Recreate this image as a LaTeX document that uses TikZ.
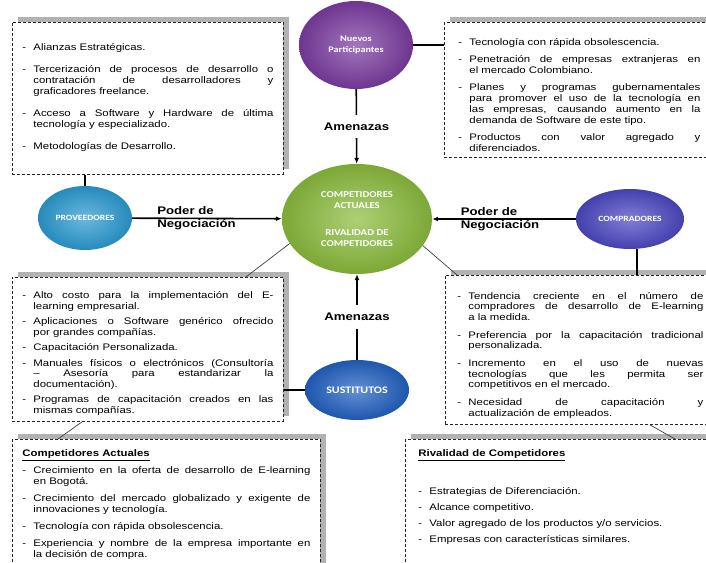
\documentclass[tikz,border=0pt]{standalone}
\usepackage{fontspec}
\setmainfont{Liberation Sans}[FakeStretch=1.2]
\newfontfamily\ovalfont{Carlito}[FakeStretch=1.2]
\usetikzlibrary{arrows.meta,shapes.geometric,shadows}

\definecolor{nuevosColor}{HTML}{7A3BA0}
\definecolor{actualesColor}{HTML}{8ABB3C}
\definecolor{proveedoresColor}{HTML}{2A9AD0}
\definecolor{compradoresColor}{HTML}{4B47C2}
\definecolor{sustitutosColor}{HTML}{2160C0}

\newcommand{\itm}[1]{\par\noindent\hangindent=11pt\hangafter=1\hbox to 11pt{-\hfil}#1\par}

\tikzset{
  fuerza/.style={ellipse, inner sep=0pt, text=white, align=center,
    font=\ovalfont\bfseries\fontsize{8}{10}\selectfont,
    shading=radial, inner color=#1!70!white, outer color=#1!90!black},
  lista/.style={draw=black!85, dash pattern=on 3pt off 2pt, line width=0.9pt,
    fill=white, anchor=north west, inner xsep=10pt, inner ysep=6pt, align=justify,
    font=\fontsize{9.5}{11}\selectfont,
    drop shadow={shadow xshift=6pt, shadow yshift=5pt, fill=black!30, opacity=1},
    execute at begin node={\setlength{\parskip}{#1}}},
  flecha/.style={line width=1.6pt, -{Latex[length=6pt,width=5pt]}},
  enlace/.style={line width=1.1pt},
  diagonal/.style={line width=0.7pt, black!75},
  etiqueta/.style={font=\bfseries\fontsize{11}{13}\selectfont, align=left}
}

\begin{document}
\begin{tikzpicture}[x=1pt, y=-1pt]
\useasboundingbox (0,0) rectangle (706,562);
\clip (0,0) rectangle (706,562);

% las cinco fuerzas
\node[fuerza=nuevosColor, minimum width=114pt, minimum height=88pt,
  font=\ovalfont\bfseries\fontsize{8.5}{10.5}\selectfont] (Nuevos) at (356,45) {Nuevos\\Participantes};
\node[fuerza=actualesColor, minimum width=150pt, minimum height=110pt,
  font=\ovalfont\bfseries\fontsize{9}{11}\selectfont] (Actuales) at (357,219)
  {COMPETIDORES\\ACTUALES\\[16pt]RIVALIDAD DE\\COMPETIDORES};
\node[fuerza=proveedoresColor, minimum width=94pt, minimum height=64pt] (Proveedores) at (85,218) {PROVEEDORES};
\node[fuerza=compradoresColor, minimum width=108pt, minimum height=60pt] (Compradores) at (630,219) {COMPRADORES};
\node[fuerza=sustitutosColor, minimum width=104pt, minimum height=60pt,
  font=\ovalfont\bfseries\fontsize{10}{12}\selectfont] (Sustitutos) at (357,390) {SUSTITUTOS};

% listas
\node[lista=11pt, text width=251pt, minimum height=135pt] (proveedoresLista) at (12,22) {%
  \itm{Alianzas Estratégicas.}
  \itm{Tercerización de procesos de desarrollo o\linebreak contratación de desarrolladores y\linebreak graficadores freelance.}
  \itm{Acceso a Software y Hardware de última\linebreak tecnología y especializado.}
  \itm{Metodologías de Desarrollo.}
  \vspace{-3pt}\mbox{}};

\node[lista=6pt, text width=242pt, inner xsep=14pt, minimum height=135pt] (nuevosLista) at (444,22) {%
  \itm{Tecnología con rápida obsolescencia.}
  \itm{Penetración de empresas extranjeras en\linebreak el mercado Colombiano.}
  \itm{Planes y programas gubernamentales\linebreak para promover el uso de la tecnología en\linebreak las empresas, causando aumento en la\linebreak demanda de Software de este tipo.}
  \itm{Productos con valor agregado y\linebreak diferenciados.}};

\node[lista=5pt, text width=251pt, minimum height=137pt,
  font=\fontsize{9.5}{10.5}\selectfont] (sustitutosLista) at (12,277) {%
  \itm{Alto costo para la implementación del E-\linebreak learning empresarial.}
  \itm{Aplicaciones o Software genérico ofrecido\linebreak por grandes compañías.}
  \itm{Capacitación Personalizada.}
  \itm{Manuales físicos o electrónicos (Consultoría\linebreak – Asesoría para estandarizar la\linebreak documentación).}
  \itm{Programas de capacitación creados en las\linebreak mismas compañías.}};

\node[lista=7.5pt, text width=246pt, inner xsep=12pt, minimum height=139pt,
  font=\fontsize{9.5}{10.5}\selectfont] (compradoresLista) at (445,275) {%
  \itm{Tendencia creciente en el número de\linebreak compradores de desarrollo de E-learning\linebreak a la medida.}
  \itm{Preferencia por la capacitación tradicional\linebreak personalizada.}
  \itm{Incremento en el uso de nuevas\linebreak tecnologías que les permita ser\linebreak competitivos en el mercado.}
  \itm{Necesidad de capacitación y\linebreak actualización de empleados.}};

\node[lista=6pt, text width=288pt, inner ysep=10pt] (actualesLista) at (12,439) {%
  \textbf{\underline{Competidores Actuales}}
  \itm{Crecimiento en la oferta de desarrollo de E-learning\linebreak en Bogotá.}
  \itm{Crecimiento del mercado globalizado y exigente de\linebreak innovaciones y tecnología.}
  \itm{Tecnología con rápida obsolescencia.}
  \itm{Experiencia y nombre de la empresa importante en\linebreak la decisión de compra.}
  \vspace{10pt}\mbox{}};

\node[lista=5pt, text width=285pt, inner xsep=13pt, inner ysep=10pt] (rivalidadLista) at (405,439) {%
  \textbf{\underline{Rivalidad de Competidores}}\par\vspace{22pt}
  \itm{Estrategias de Diferenciación.}
  \itm{Alcance competitivo.}
  \itm{Valor agregado de los productos y/o servicios.}
  \itm{Empresas con características similares.}
  \vspace{10pt}\mbox{}};

% amenazas y poder de negociacion
\draw[flecha] (Nuevos) -- node[etiqueta, fill=white, inner ysep=8pt] (amenazaNuevos) {Amenazas} (Actuales);
\draw[flecha] (Sustitutos) -- node[etiqueta, fill=white, inner ysep=8pt] (amenazaSustitutos) {Amenazas} (Actuales);
\draw[flecha] (Proveedores) -- node[etiqueta, pos=0.14, anchor=west] (poderProveedores) {Poder de\\Negociación} (Actuales);
\draw[flecha] (Compradores) -- node[etiqueta, pos=0.83, anchor=west] (poderCompradores) {Poder de\\Negociación} (Actuales);

% enlaces con las listas
\draw[enlace] (Proveedores.north) -- (Proveedores.north |- proveedoresLista.south);
\draw[enlace] (Nuevos.east) -- (Nuevos.east -| nuevosLista.west);
\draw[enlace] (Sustitutos.west) -- (Sustitutos.west -| sustitutosLista.east);
\draw[enlace] ([xshift=7pt]Compradores.south) -- ([xshift=7pt]Compradores.south |- compradoresLista.north);
\draw[diagonal] (Actuales.-160) -- ([xshift=-38pt]sustitutosLista.north east);
\draw[diagonal] (Actuales.-22) -- ([xshift=12pt]compradoresLista.north west);
\draw[diagonal] ([xshift=70pt]sustitutosLista.south west) -- ([xshift=46pt]actualesLista.north west);
\draw[diagonal] ([xshift=205pt]compradoresLista.south west) -- ([xshift=270pt]rivalidadLista.north west);
\end{tikzpicture}
\end{document}
